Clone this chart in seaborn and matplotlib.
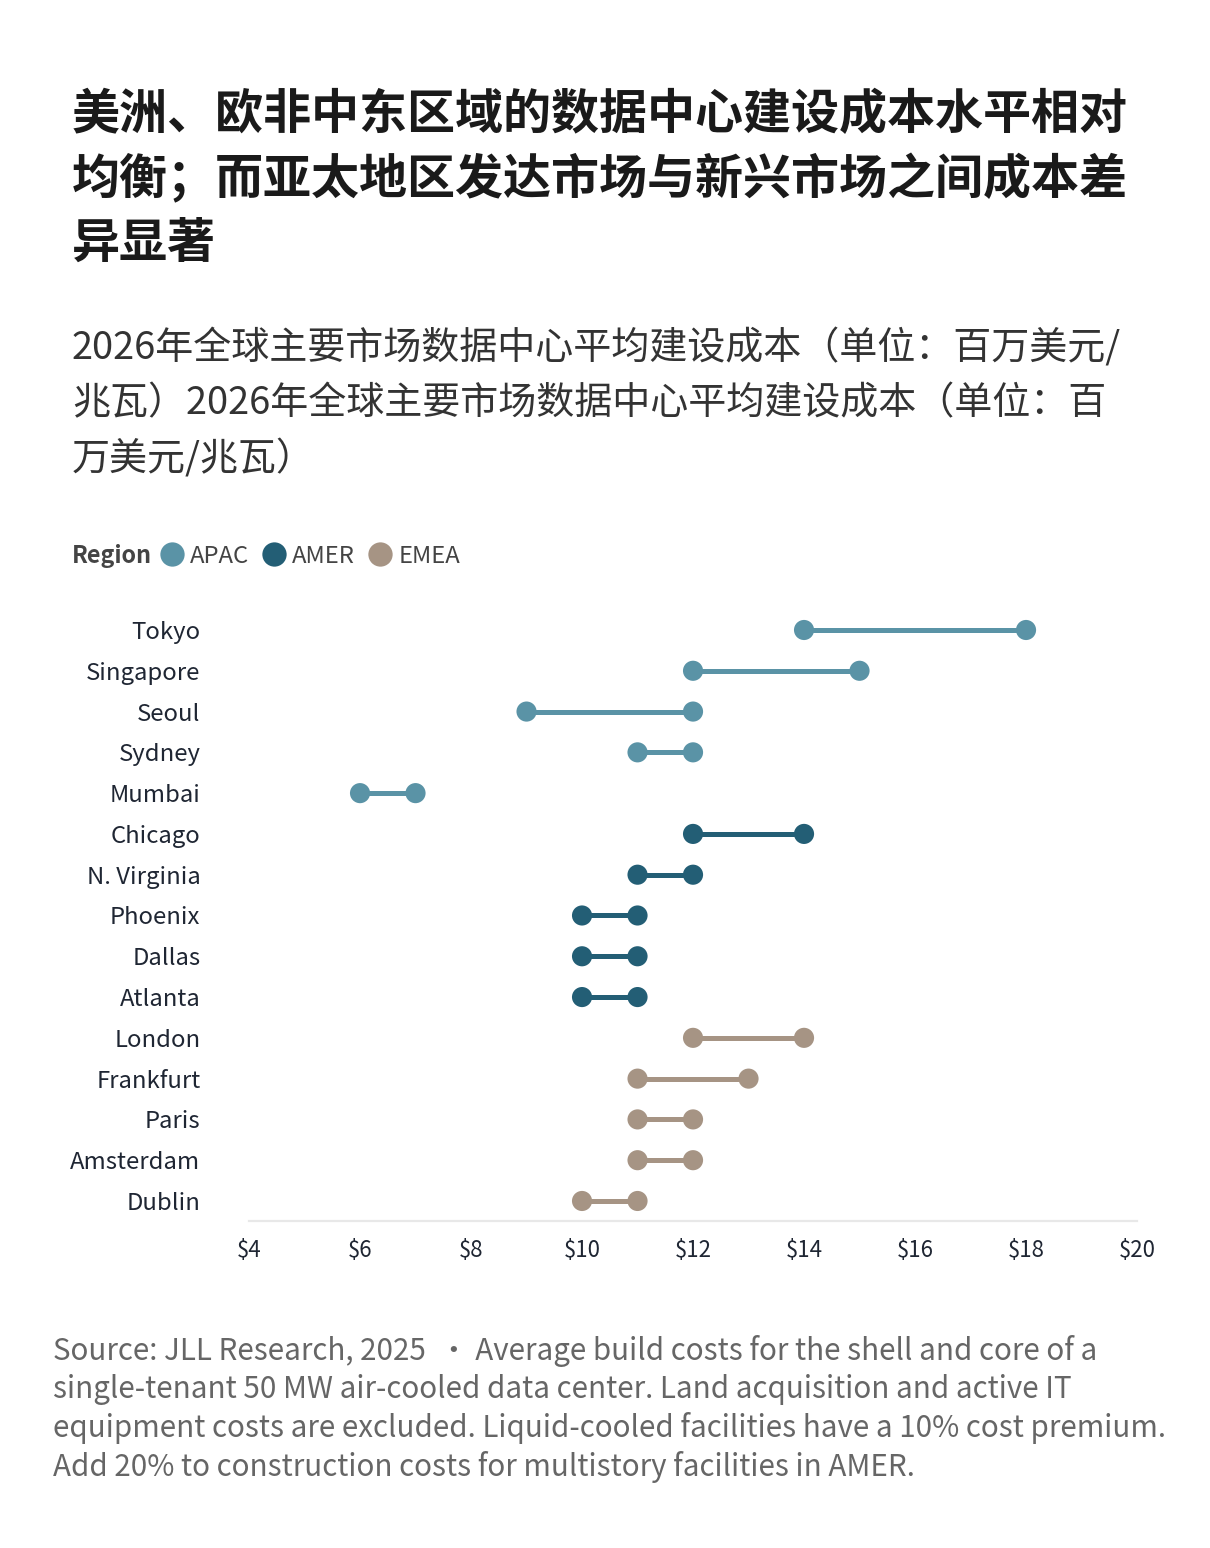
import pandas as pd
import seaborn as sns
import matplotlib.pyplot as plt
from matplotlib.lines import Line2D

cities = ['Tokyo', 'Singapore', 'Seoul', 'Sydney', 'Mumbai',
          'Chicago', 'N. Virginia', 'Phoenix', 'Dallas', 'Atlanta',
          'London', 'Frankfurt', 'Paris', 'Amsterdam', 'Dublin']
regions = ['APAC'] * 5 + ['AMER'] * 5 + ['EMEA'] * 5
cost_low = [14, 12, 9, 11, 6, 12, 11, 10, 10, 10, 12, 11, 11, 11, 10]
cost_high = [18, 15, 12, 12, 7, 14, 12, 11, 11, 11, 14, 13, 12, 12, 11]
x_ticks = [4, 6, 8, 10, 12, 14, 16, 18, 20]

palette = {'APAC': '#5a93a6', 'AMER': '#235e75', 'EMEA': '#a69484'}

title = ('美洲、欧非中东区域的数据中心建设成本水平相对\n'
         '均衡；而亚太地区发达市场与新兴市场之间成本差\n'
         '异显著')
subtitle = ('2026年全球主要市场数据中心平均建设成本（单位：百万美元/\n'
            '兆瓦）2026年全球主要市场数据中心平均建设成本（单位：百\n'
            '万美元/兆瓦）')
source = ('Source: JLL Research, 2025  ・ Average build costs for the shell and core of a\n'
          'single-tenant 50 MW air-cooled data center. Land acquisition and active IT\n'
          'equipment costs are excluded. Liquid-cooled facilities have a 10% cost premium.\n'
          'Add 20% to construction costs for multistory facilities in AMER.')

df = pd.DataFrame({'city': cities, 'region': regions, 'low': cost_low, 'high': cost_high})
df['pos'] = range(len(df))
long = df.melt(id_vars=['city', 'region', 'pos'], value_vars=['low', 'high'], value_name='cost')

sns.set_theme(style='white')
plt.rcParams['font.family'] = ['Noto Sans CJK SC', 'DejaVu Sans']

fig = plt.figure(figsize=(12.1, 15.48), dpi=100)
ax = fig.add_axes([0.2058, 0.2110, 0.7339, 0.3952])

# connecting lines
for _, r in df.iterrows():
    ax.plot([r['low'], r['high']], [r['pos'], r['pos']], color=palette[r['region']],
            lw=3.6, solid_capstyle='butt', zorder=2)

sns.scatterplot(data=long, x='cost', y='pos', hue='region', palette=palette,
                s=210, edgecolor='none', legend=False, zorder=3, ax=ax)

ax.set_xlim(4, 20)
ax.set_ylim(len(df) - 0.5, -0.5)
ax.set_xticks(x_ticks)
ax.set_xticklabels([f'${v}' for v in x_ticks], fontsize=16, color='#1f2633')
ax.set_yticks(df['pos'])
ax.set_yticklabels(cities, fontsize=17.2, color='#1f2633')
ax.tick_params(axis='both', length=0)
ax.tick_params(axis='y', pad=35)
ax.tick_params(axis='x', pad=13)
ax.set_xlabel('')
ax.set_ylabel('')
for s in ['top', 'right', 'left']:
    ax.spines[s].set_visible(False)
ax.spines['bottom'].set_color('#e8e8e8')
ax.spines['bottom'].set_linewidth(1.6)
ax.grid(False)

fig.text(72 / 1210, 1 - 90 / 1548, title, fontsize=34.6, fontweight='bold', color='#1a1a1a',
         va='top', ha='left', linespacing=1.37)
fig.text(72 / 1210, 1 - 329 / 1548, subtitle, fontsize=27.4, color='#333333',
         va='top', ha='left', linespacing=1.55)

# legend
fig.text(72 / 1210, 1 - 556 / 1548, 'Region', fontsize=16.8, fontweight='bold',
         color='#444444', va='center', ha='left')
handles = [Line2D([], [], marker='o', ls='none', markersize=17.5, color=palette[k],
                  markeredgewidth=0) for k in palette]
fig.legend(handles, list(palette.keys()), loc='center left',
           bbox_to_anchor=(146 / 1210, 1 - 556 / 1548), ncol=3, frameon=False,
           handletextpad=0.15, columnspacing=0.45, handlelength=1.2, borderpad=0,
           prop={'size': 17.2}, labelcolor='#444444')

fig.text(53 / 1210, 1 - 1335 / 1548, source, fontsize=21.3, color='#666666',
         va='top', ha='left', linespacing=1.28)

fig.savefig('out.png', dpi=100)
